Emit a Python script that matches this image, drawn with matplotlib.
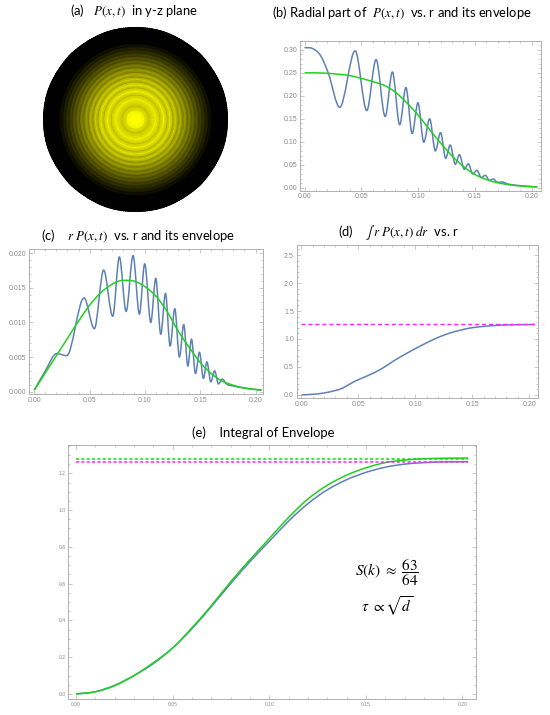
import numpy as np
import matplotlib
matplotlib.use('Agg')
import matplotlib.pyplot as plt
from matplotlib.path import Path
from matplotlib.patches import PathPatch
from matplotlib.colors import LinearSegmentedColormap, PowerNorm
from matplotlib.ticker import MultipleLocator, FormatStrFormatter

plt.rcParams['mathtext.fontset'] = 'stix'
plt.rcParams['font.family'] = ['Liberation Sans', 'DejaVu Sans']

BLUE = '#5e81b5'
GREEN = '#1fd01f'
MAGENTA = '#ff22ff'
FRAME = '#b0b0b0'
TICKTXT = '#8a8a8a'

# (b) radial part of P(x,t): extrema and a few shoulder points
r_rad = [0.0, 0.007, 0.014, 0.021, 0.031, 0.0446, 0.0548, 0.063, 0.071, 0.0774,
         0.0838, 0.0893, 0.0948, 0.0999, 0.105, 0.1102, 0.1152, 0.1198, 0.1243,
         0.1283, 0.1328, 0.1364, 0.1407, 0.1443, 0.1482, 0.1518, 0.1557, 0.1592,
         0.1628, 0.1662, 0.170, 0.1735, 0.18, 0.19, 0.20, 0.205]
p_rad = [0.305, 0.303, 0.288, 0.249, 0.175, 0.298, 0.168, 0.279, 0.155, 0.252,
         0.137, 0.218, 0.118, 0.185, 0.099, 0.150, 0.080, 0.120, 0.064,
         0.093, 0.051, 0.072, 0.040, 0.052, 0.030, 0.038, 0.022, 0.027,
         0.016, 0.019, 0.0115, 0.0125, 0.0075, 0.0045, 0.0025, 0.002]

# envelope of the radial part
r_env = [0.0, 0.01, 0.02, 0.03, 0.04, 0.05, 0.06, 0.07, 0.08, 0.09, 0.10, 0.11,
         0.12, 0.13, 0.14, 0.15, 0.16, 0.17, 0.18, 0.19, 0.20, 0.205]
p_env = [0.250, 0.250, 0.249, 0.247, 0.244, 0.238, 0.231, 0.223, 0.208, 0.185,
         0.158, 0.127, 0.097, 0.069, 0.046, 0.029, 0.018, 0.011, 0.0065, 0.0038,
         0.0022, 0.0018]

# (c) r P(x,t)
r_rp = [0.0, 0.01, 0.0202, 0.0293, 0.045, 0.0543, 0.0627, 0.0709, 0.0769, 0.083,
        0.0893, 0.095, 0.0998, 0.1053, 0.1098, 0.1143, 0.1186, 0.1228, 0.127,
        0.1312, 0.1351, 0.1388, 0.1421, 0.1457, 0.1493, 0.1529, 0.156, 0.1596,
        0.163, 0.1665, 0.170, 0.174, 0.18, 0.19, 0.20, 0.2057]
rp = [0.0002, 0.0030, 0.0055, 0.0052, 0.01356, 0.0091, 0.0176, 0.0109, 0.0195, 0.0116,
      0.0197, 0.0112, 0.0185, 0.0100, 0.0164, 0.0083, 0.0142, 0.0066, 0.0120,
      0.0050, 0.0097, 0.0037, 0.0076, 0.0026, 0.0057, 0.0019, 0.0043, 0.0014,
      0.0030, 0.0011, 0.0018, 0.00105, 0.0008, 0.0005, 0.0003, 0.0002]
rp_env = [0.0002, 0.0027, 0.0052, 0.0077, 0.0102, 0.0125, 0.0143, 0.0155, 0.0161, 0.0160,
          0.0152, 0.0138, 0.0116, 0.0088, 0.0064, 0.0042, 0.0026, 0.0015, 0.0009,
          0.0005, 0.0003, 0.0002]

# (d) integral of r P dr
r_int = [0.0, 0.01, 0.02, 0.03, 0.036, 0.0476, 0.059, 0.0707, 0.082, 0.094, 0.105,
         0.117, 0.128, 0.14, 0.1515, 0.163, 0.1746, 0.19, 0.205]
int_rp = [0.0, 0.012, 0.035, 0.08, 0.12, 0.25, 0.35, 0.47, 0.62, 0.76, 0.88,
          1.0, 1.09, 1.16, 1.206, 1.23, 1.247, 1.255, 1.258]
int_limit = 1.26

# (e) integral of envelope
r_e = [0.0, 0.01, 0.02, 0.03, 0.04, 0.05, 0.06, 0.07, 0.08, 0.09, 0.10, 0.11,
       0.12, 0.13, 0.14, 0.15, 0.16, 0.17, 0.18, 0.19, 0.20, 0.203]
int_env = [0.0, 0.012, 0.045, 0.10, 0.17, 0.25, 0.36, 0.48, 0.61, 0.73, 0.845, 0.96,
           1.06, 1.135, 1.19, 1.23, 1.258, 1.272, 1.279, 1.282, 1.283, 1.283]
int_full = [0.0, 0.012, 0.047, 0.10, 0.165, 0.25, 0.355, 0.475, 0.60, 0.72, 0.83, 0.94,
            1.035, 1.11, 1.165, 1.205, 1.233, 1.25, 1.258, 1.262, 1.263, 1.263]
env_limit = 1.28
full_limit = 1.262

W, H = 550, 715
fig = plt.figure(figsize=(W / 100, H / 100), dpi=100)


def px_axes(left, top, right, bottom, **kw):
    return fig.add_axes([left / W, 1 - bottom / H, (right - left) / W, (bottom - top) / H], **kw)


def smooth_path(x, y):
    # cubic Bezier through the read points, flat tangents at the extrema
    x = np.asarray(x, float)
    y = np.asarray(y, float)
    m = np.empty_like(y)
    m[1:-1] = (y[2:] - y[:-2]) / (x[2:] - x[:-2])
    m[0] = (y[1] - y[0]) / (x[1] - x[0])
    m[-1] = (y[-1] - y[-2]) / (x[-1] - x[-2])
    turn = (y[1:-1] - y[:-2]) * (y[2:] - y[1:-1]) < 0
    m[1:-1][turn] = 0.0
    verts = [(x[0], y[0])]
    codes = [Path.MOVETO]
    for i in range(len(x) - 1):
        h = (x[i + 1] - x[i]) / 3
        verts += [(x[i] + h, y[i] + m[i] * h), (x[i + 1] - h, y[i + 1] - m[i + 1] * h), (x[i + 1], y[i + 1])]
        codes += [Path.CURVE4] * 3
    return Path(verts, codes)


def curve(ax, x, y, color, lw=1.1):
    ax.add_patch(PathPatch(smooth_path(x, y), fill=False, ec=color, lw=lw, joinstyle='round'))


def style(ax, xlim, ylim, ymajor, yminor, yfmt, fs=5.0):
    ax.set_xlim(*xlim)
    ax.set_ylim(*ylim)
    ax.xaxis.set_major_locator(MultipleLocator(0.05))
    ax.xaxis.set_minor_locator(MultipleLocator(0.01))
    ax.yaxis.set_major_locator(MultipleLocator(ymajor))
    ax.yaxis.set_minor_locator(MultipleLocator(yminor))
    ax.xaxis.set_major_formatter(FormatStrFormatter('%.2f'))
    ax.yaxis.set_major_formatter(FormatStrFormatter(yfmt))
    ax.tick_params(which='both', direction='in', top=True, right=True, color=FRAME,
                   labelcolor=TICKTXT, labelsize=fs, pad=2, width=0.5)
    ax.tick_params(which='major', length=3)
    ax.tick_params(which='minor', length=1.5)
    for s in ax.spines.values():
        s.set_color(FRAME)
        s.set_linewidth(0.7)


def title(x, y, s, size=9.4):
    fig.text(x / W, 1 - y / H, s, ha='center', va='center', fontsize=size, family='Lato')


# (a) density in the y-z plane, built from the radial profile
axa = px_axes(43, 27, 228, 212, projection='polar')
theta = np.linspace(0, 2 * np.pi, 241)
R, T = np.meshgrid(r_rad, theta, indexing='ij')
C = np.repeat(np.array(p_rad)[:, None], len(theta), axis=1)
cmap = LinearSegmentedColormap.from_list('ky', ['#000000', '#ffff00'])
axa.pcolormesh(T, R, C, shading='gouraud', cmap=cmap, norm=PowerNorm(0.7, vmin=0.012, vmax=0.27))
axa.set_ylim(0, r_rad[-1])
axa.set_axis_off()
title(134, 11, r'(a)   $P(x,t)$  in y-z plane')

# (b)
axb = px_axes(300, 40.7, 540.7, 190.7)
curve(axb, r_rad, p_rad, BLUE)
curve(axb, r_env, p_env, GREEN)
style(axb, (-0.004, 0.208), (-0.0065, 0.32), 0.05, 0.01, '%.2f')
title(402, 13, r'(b) Radial part of  $P(x,t)$  vs. r and its envelope')

# (c)
axc = px_axes(29.3, 249.3, 263.3, 394.3)
curve(axc, r_rp, rp, BLUE)
curve(axc, r_env, rp_env, GREEN)
style(axc, (-0.0045, 0.207), (-0.0004, 0.0206), 0.005, 0.001, '%.3f')
title(138, 236, r'(c)    $r\ P(x,t)$  vs. r and its envelope')

# (d)
axd = px_axes(296.7, 245, 538.3, 398.3)
curve(axd, r_int, int_rp, BLUE)
axd.plot([r_int[0], r_int[-1]], [int_limit, int_limit], color=MAGENTA, lw=1.0, ls=(0, (3, 2)))
style(axd, (-0.004, 0.208), (-0.06, 2.68), 0.5, 0.1, '%.1f')
title(399, 233, r'(d)    $\int\, r\ P(x,t)\ dr$  vs. r')

# (e)
axe = px_axes(68.3, 445, 476, 699.3)
axe.plot([r_e[0], r_e[-1]], [env_limit, env_limit], color=GREEN, lw=1.1, ls=(0, (2, 1.5)))
axe.plot([r_e[0], r_e[-1]], [full_limit, full_limit], color=MAGENTA, lw=1.1, ls=(0, (2, 1.5)))
curve(axe, r_e, int_full, BLUE)
curve(axe, r_e, int_env, GREEN)
style(axe, (-0.004, 0.207), (-0.029, 1.354), 0.2, 0.05, '%.1f', fs=3.6)
title(263, 433, '(e)    Integral of Envelope')
axe.text(0.161, 0.66, r'$S(k)\ \approx\ \dfrac{63}{64}$', ha='center', va='center', fontsize=11)
axe.text(0.161, 0.48, r'$\tau\ \propto \sqrt{d}$', ha='center', va='center', fontsize=11)

fig.savefig('out.png', dpi=100)
